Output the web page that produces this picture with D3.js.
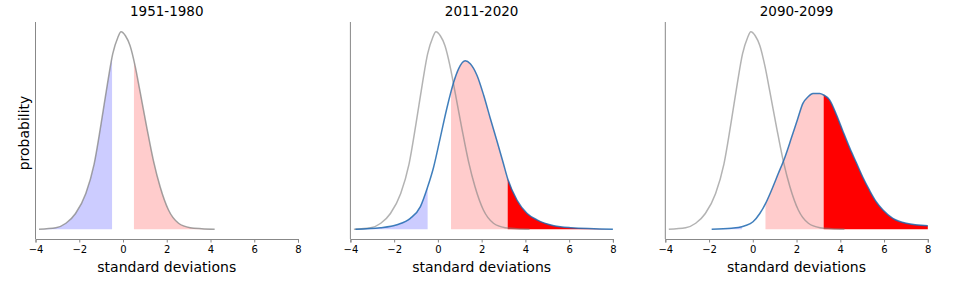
<!DOCTYPE html>
<html>
<head>
<meta charset="utf-8">
<script src="https://cdn.jsdelivr.net/npm/d3@7"></script>
<style>
  body { margin: 0; background: #fff; }
  svg { display: block; font-family: "DejaVu Sans", sans-serif; }
</style>
</head>
<body>
<svg id="chart" width="962" height="283"></svg>
<script>
// panel titles and axis ticks
const panelTitles = ['1951-1980', '2011-2020', '2090-2099'];
const xTicks = [-4, -2, 0, 2, 4, 6, 8];

// baseline (1951-1980) distribution
const baseX = [-3.84, -3.07, -2.61, -2.17, -1.70, -1.32, -1.01, -0.70, -0.47, -0.24, -0.09, 0.11, 0.32, 0.55, 0.78, 1.09, 1.39, 1.70, 2.08, 2.54, 3.07, 3.60, 4.19];
const baseY = [0.000, 0.003, 0.012, 0.032, 0.073, 0.133, 0.213, 0.300, 0.358, 0.391, 0.403, 0.395, 0.375, 0.334, 0.281, 0.207, 0.140, 0.086, 0.039, 0.012, 0.003, 0.001, 0.000];

// 2011-2020 distribution
const recentX = [-3.77, -2.63, -1.87, -1.26, -0.80, -0.47, -0.20, 0.11, 0.41, 0.72, 0.95, 1.25, 1.48, 1.79, 2.09, 2.39, 2.70, 3.00, 3.19, 3.62, 4.08, 4.53, 5.30, 6.06, 8.00];
const recentY = [0.000, 0.003, 0.009, 0.022, 0.046, 0.086, 0.126, 0.187, 0.247, 0.300, 0.328, 0.344, 0.338, 0.314, 0.274, 0.227, 0.180, 0.133, 0.103, 0.059, 0.032, 0.019, 0.007, 0.003, 0.000];

// 2090-2099 distribution
const futureX = [-1.88, -0.97, -0.50, -0.36, 0.01, 0.32, 0.58, 0.85, 1.16, 1.46, 1.77, 2.05, 2.29, 2.52, 2.75, 3.06, 3.24, 3.51, 3.82, 4.12, 4.43, 4.73, 5.03, 5.34, 5.64, 5.95, 6.40, 7.01, 8.00];
const futureY = [0.000, 0.002, 0.005, 0.007, 0.015, 0.032, 0.052, 0.079, 0.113, 0.146, 0.187, 0.225, 0.257, 0.270, 0.277, 0.277, 0.274, 0.264, 0.234, 0.200, 0.166, 0.136, 0.106, 0.079, 0.056, 0.039, 0.022, 0.012, 0.007];

// where the shaded bands start/stop in each panel
const coldCut = [-0.50, -0.47, -0.50];
const warmCut = [0.50, 0.60, 0.58];
const hotCut = [null, 3.19, 3.24];

const shiftedX = [null, recentX, futureX];
const shiftedY = [null, recentY, futureY];

const svg = d3.select('#chart');
const panelLeft = 35.5, panelStep = 314.9, panelW = 262.5;
const plotTop = 22, plotBottom = 239;

const yMax = d3.max(baseY.concat(recentY, futureY));
const y = d3.scaleLinear().domain([-0.05 * yMax, 1.05 * yMax]).range([plotBottom, plotTop]);

function pts(xs, ys) { return xs.map((v, i) => [v, ys[i]]); }

function yAt(xs, ys, x0) {
  const i = d3.bisectLeft(xs, x0);
  if (i <= 0) return ys[0];
  if (i >= xs.length) return ys[ys.length - 1];
  const t = (x0 - xs[i - 1]) / (xs[i] - xs[i - 1]);
  return ys[i - 1] + t * (ys[i] - ys[i - 1]);
}

// part of a curve between lo and hi
function segment(xs, ys, lo, hi) {
  lo = Math.max(lo, xs[0]);
  hi = Math.min(hi, xs[xs.length - 1]);
  const out = [[lo, yAt(xs, ys, lo)]];
  xs.forEach((v, i) => { if (v > lo + 0.02 && v < hi - 0.02) out.push([v, ys[i]]); });
  out.push([hi, yAt(xs, ys, hi)]);
  return out;
}

panelTitles.forEach((title, p) => {
  const left = panelLeft + p * panelStep;
  const x = d3.scaleLinear().domain([-4, 8]).range([left, left + panelW]);
  const g = svg.append('g');

  const area = d3.area().curve(d3.curveMonotoneX)
    .x(d => x(d[0])).y0(y(0)).y1(d => y(d[1]));
  const line = d3.line().curve(d3.curveMonotoneX)
    .x(d => x(d[0])).y(d => y(d[1]));

  // the distribution that gets shaded
  const fx = p === 0 ? baseX : shiftedX[p];
  const fy = p === 0 ? baseY : shiftedY[p];
  const hi = hotCut[p] === null ? 99 : hotCut[p];

  g.append('path').attr('d', area(segment(fx, fy, -99, coldCut[p])))
    .attr('fill', '#ccccff');
  g.append('path').attr('d', area(segment(fx, fy, warmCut[p], hi)))
    .attr('fill', '#ffcccc');
  if (hotCut[p] !== null) {
    g.append('path').attr('d', area(segment(fx, fy, hotCut[p], 99)))
      .attr('fill', '#ff0000');
  }

  g.append('path').attr('d', line(pts(baseX, baseY)))
    .attr('fill', 'none').attr('stroke', '#808080')
    .attr('stroke-opacity', p === 0 ? 0.72 : 0.6).attr('stroke-width', 1.5)
    .attr('stroke-linejoin', 'round');

  if (p > 0) {
    g.append('path').attr('d', line(pts(shiftedX[p], shiftedY[p])))
      .attr('fill', 'none').attr('stroke', '#1f68b0')
      .attr('stroke-opacity', 0.85).attr('stroke-width', 1.5)
      .attr('stroke-linejoin', 'round');
  }

  // axes
  const xAxis = g.append('g')
    .attr('transform', `translate(0,${plotBottom})`)
    .call(d3.axisBottom(x).tickValues(xTicks).tickSizeOuter(0).tickSize(3.5)
      .tickFormat(d => d < 0 ? '\u2212' + Math.abs(d) : d));
  xAxis.select('.domain').attr('stroke', '#888');
  xAxis.selectAll('.tick line').attr('stroke', '#888');
  xAxis.selectAll('.tick text').attr('font-size', 10).attr('fill', '#000')
    .attr('font-family', '"DejaVu Sans", sans-serif').attr('dy', '0.71em').attr('y', 7);

  g.append('line')
    .attr('x1', left).attr('x2', left).attr('y1', plotTop).attr('y2', plotBottom)
    .attr('stroke', '#888');

  g.append('text')
    .attr('x', left + panelW / 2).attr('y', 16)
    .attr('text-anchor', 'middle').attr('font-size', 13.5)
    .text(title);

  g.append('text')
    .attr('x', left + panelW / 2).attr('y', 272)
    .attr('text-anchor', 'middle').attr('font-size', 14)
    .text('standard deviations');

  if (p === 0) {
    g.append('text')
      .attr('transform', `translate(28.5,133) rotate(-90)`)
      .attr('text-anchor', 'middle').attr('font-size', 14)
      .text('probability');
  }
});
</script>
</body>
</html>
